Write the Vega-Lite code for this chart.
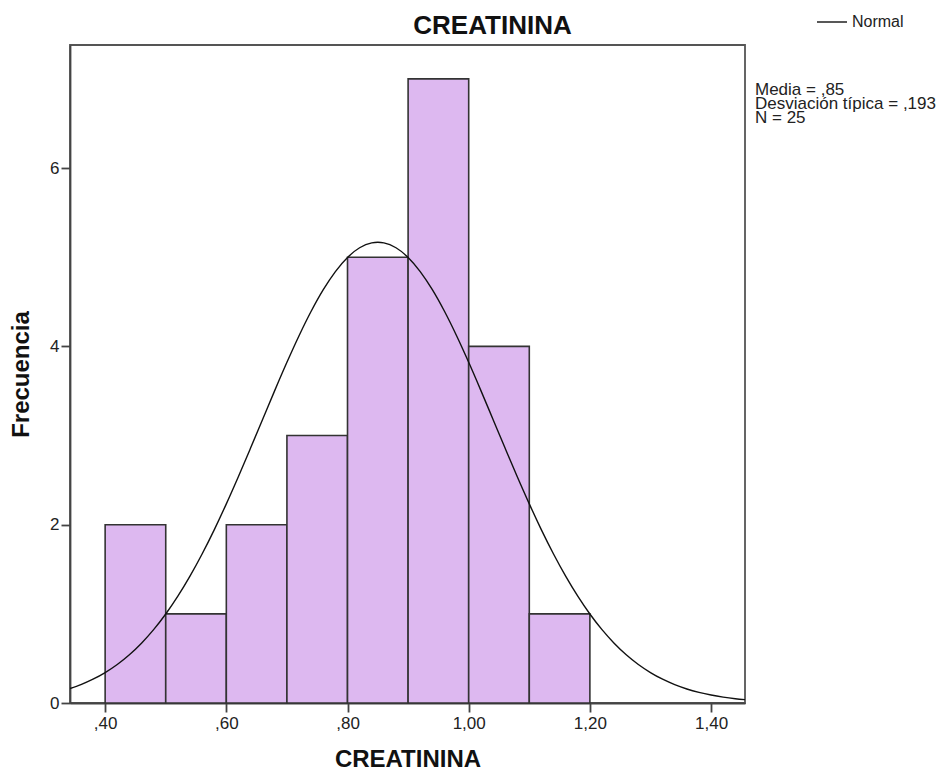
{
  "$schema": "https://vega.github.io/schema/vega-lite/v6.json",
  "width": 675,
  "height": 658,
  "autosize": {"type": "none"},
  "padding": {"left": 70, "top": 45, "right": 197, "bottom": 70},
  "background": "white",
  "config": {
    "font": "Liberation Sans",
    "view": {"fill": "#F0F0F0", "stroke": "#555555", "strokeWidth": 1.8},
    "axis": {"domainColor": "#444444", "domainWidth": 1.8, "tickColor": "#444444", "tickWidth": 1.8, "tickSize": 9, "labelFontSize": 17, "labelColor": "#222222", "titleFontSize": 24, "titleFontWeight": "bold", "titleColor": "#111111", "grid": false}
  },
  "resolve": {"axis": {"x": "independent"}},
  "datasets": {
    "bins": [
      {"lo": 0.4, "hi": 0.5, "count": 2},
      {"lo": 0.5, "hi": 0.6, "count": 1},
      {"lo": 0.6, "hi": 0.7, "count": 2},
      {"lo": 0.7, "hi": 0.8, "count": 3},
      {"lo": 0.8, "hi": 0.9, "count": 5},
      {"lo": 0.9, "hi": 1.0, "count": 7},
      {"lo": 1.0, "hi": 1.1, "count": 4},
      {"lo": 1.1, "hi": 1.2, "count": 1}
    ],
    "curve": [
      {"x": 0.342, "y": 0.1618}, {"x": 0.36, "y": 0.2059}, {"x": 0.38, "y": 0.2665}, {"x": 0.40, "y": 0.3411},
      {"x": 0.42, "y": 0.4318}, {"x": 0.44, "y": 0.5411}, {"x": 0.46, "y": 0.6709}, {"x": 0.48, "y": 0.8226},
      {"x": 0.50, "y": 0.9982}, {"x": 0.52, "y": 1.1980}, {"x": 0.54, "y": 1.4226}, {"x": 0.56, "y": 1.6713},
      {"x": 0.58, "y": 1.9423}, {"x": 0.60, "y": 2.2336}, {"x": 0.62, "y": 2.5406}, {"x": 0.64, "y": 2.8593},
      {"x": 0.66, "y": 3.1832}, {"x": 0.68, "y": 3.5064}, {"x": 0.70, "y": 3.8208}, {"x": 0.72, "y": 4.1191},
      {"x": 0.74, "y": 4.3933}, {"x": 0.76, "y": 4.6357}, {"x": 0.78, "y": 4.8391}, {"x": 0.80, "y": 4.9975},
      {"x": 0.82, "y": 5.1059}, {"x": 0.84, "y": 5.1611}, {"x": 0.85, "y": 5.168}, {"x": 0.86, "y": 5.1611},
      {"x": 0.88, "y": 5.1059}, {"x": 0.90, "y": 4.9975}, {"x": 0.92, "y": 4.8391}, {"x": 0.94, "y": 4.6357},
      {"x": 0.96, "y": 4.3933}, {"x": 0.98, "y": 4.1191}, {"x": 1.00, "y": 3.8208}, {"x": 1.02, "y": 3.5064},
      {"x": 1.04, "y": 3.1832}, {"x": 1.06, "y": 2.8593}, {"x": 1.08, "y": 2.5406}, {"x": 1.10, "y": 2.2336},
      {"x": 1.12, "y": 1.9423}, {"x": 1.14, "y": 1.6713}, {"x": 1.16, "y": 1.4226}, {"x": 1.18, "y": 1.1980},
      {"x": 1.20, "y": 0.9982}, {"x": 1.22, "y": 0.8226}, {"x": 1.24, "y": 0.6709}, {"x": 1.26, "y": 0.5411},
      {"x": 1.28, "y": 0.4318}, {"x": 1.30, "y": 0.3411}, {"x": 1.32, "y": 0.2665}, {"x": 1.34, "y": 0.2059},
      {"x": 1.36, "y": 0.1574}, {"x": 1.38, "y": 0.1191}, {"x": 1.40, "y": 0.0891}, {"x": 1.42, "y": 0.0660},
      {"x": 1.44, "y": 0.0483}, {"x": 1.456, "y": 0.0374}
    ],
    "stats": [
      {"stat": "stats"}
    ]
  },
  "layer": [
    {
      "data": {"name": "bins"},
      "mark": {"type": "rect", "fill": "#DDB8F0", "stroke": "#333333", "strokeWidth": 1.6},
      "encoding": {
        "x": {"field": "lo", "type": "quantitative",
          "scale": {"domain": [0.342, 1.456], "nice": false, "zero": false},
          "axis": {"title": "CREATININA", "values": [0.4, 0.6, 0.8, 1.0, 1.2, 1.4], "titlePadding": 16, "labelPadding": 3,
            "labelExpr": "datum.value < 1 ? ',' + slice(format(datum.value, '.2f'), 2) : replace(format(datum.value, '.2f'), '.', ',')"}},
        "x2": {"field": "hi"},
        "y": {"field": "count", "type": "quantitative",
          "scale": {"domain": [0, 7.38], "nice": false},
          "axis": {"title": "Frecuencia", "values": [0, 2, 4, 6], "format": "d", "titlePadding": 16, "labelPadding": 2}},
        "y2": {"datum": 0}
      }
    },
    {
      "data": {"name": "curve"},
      "mark": {"type": "line", "strokeWidth": 1.4, "clip": true, "interpolate": "monotone"},
      "encoding": {
        "x": {"field": "x", "type": "quantitative",
          "axis": {"orient": "top", "title": "CREATININA", "labels": false, "ticks": false, "domain": false,
            "titleFontSize": 26, "titleX": 422, "titleY": -12, "titleBaseline": "alphabetic", "titleAlign": "center", "titleAnchor": null}},
        "y": {"field": "y", "type": "quantitative"},
        "color": {"datum": "Normal", "type": "nominal",
          "scale": {"range": ["#111111"]},
          "legend": {"title": null, "orient": "none", "legendX": 746, "legendY": -39, "symbolType": "stroke", "symbolSize": 900, "symbolStrokeWidth": 1.4, "labelFontSize": 16, "labelColor": "#222222", "labelOffset": 4}}
      }
    },
    {
      "data": {"name": "stats"},
      "mark": {"type": "point", "opacity": 0},
      "encoding": {
        "shape": {"field": "stat", "type": "nominal",
          "legend": {"title": ["Media = ,85", "Desviación típica = ,193", "N = 25"], "titleFontSize": 17, "titleFontWeight": "normal", "titleColor": "#222222", "titleLineHeight": 14, "titleLimit": 300, "titlePadding": 0,
            "orient": "none", "legendX": 685, "legendY": 37, "symbolSize": 0, "symbolOpacity": 0, "symbolStrokeWidth": 0, "labelExpr": "''", "labelFontSize": 1}}
      }
    }
  ]
}
